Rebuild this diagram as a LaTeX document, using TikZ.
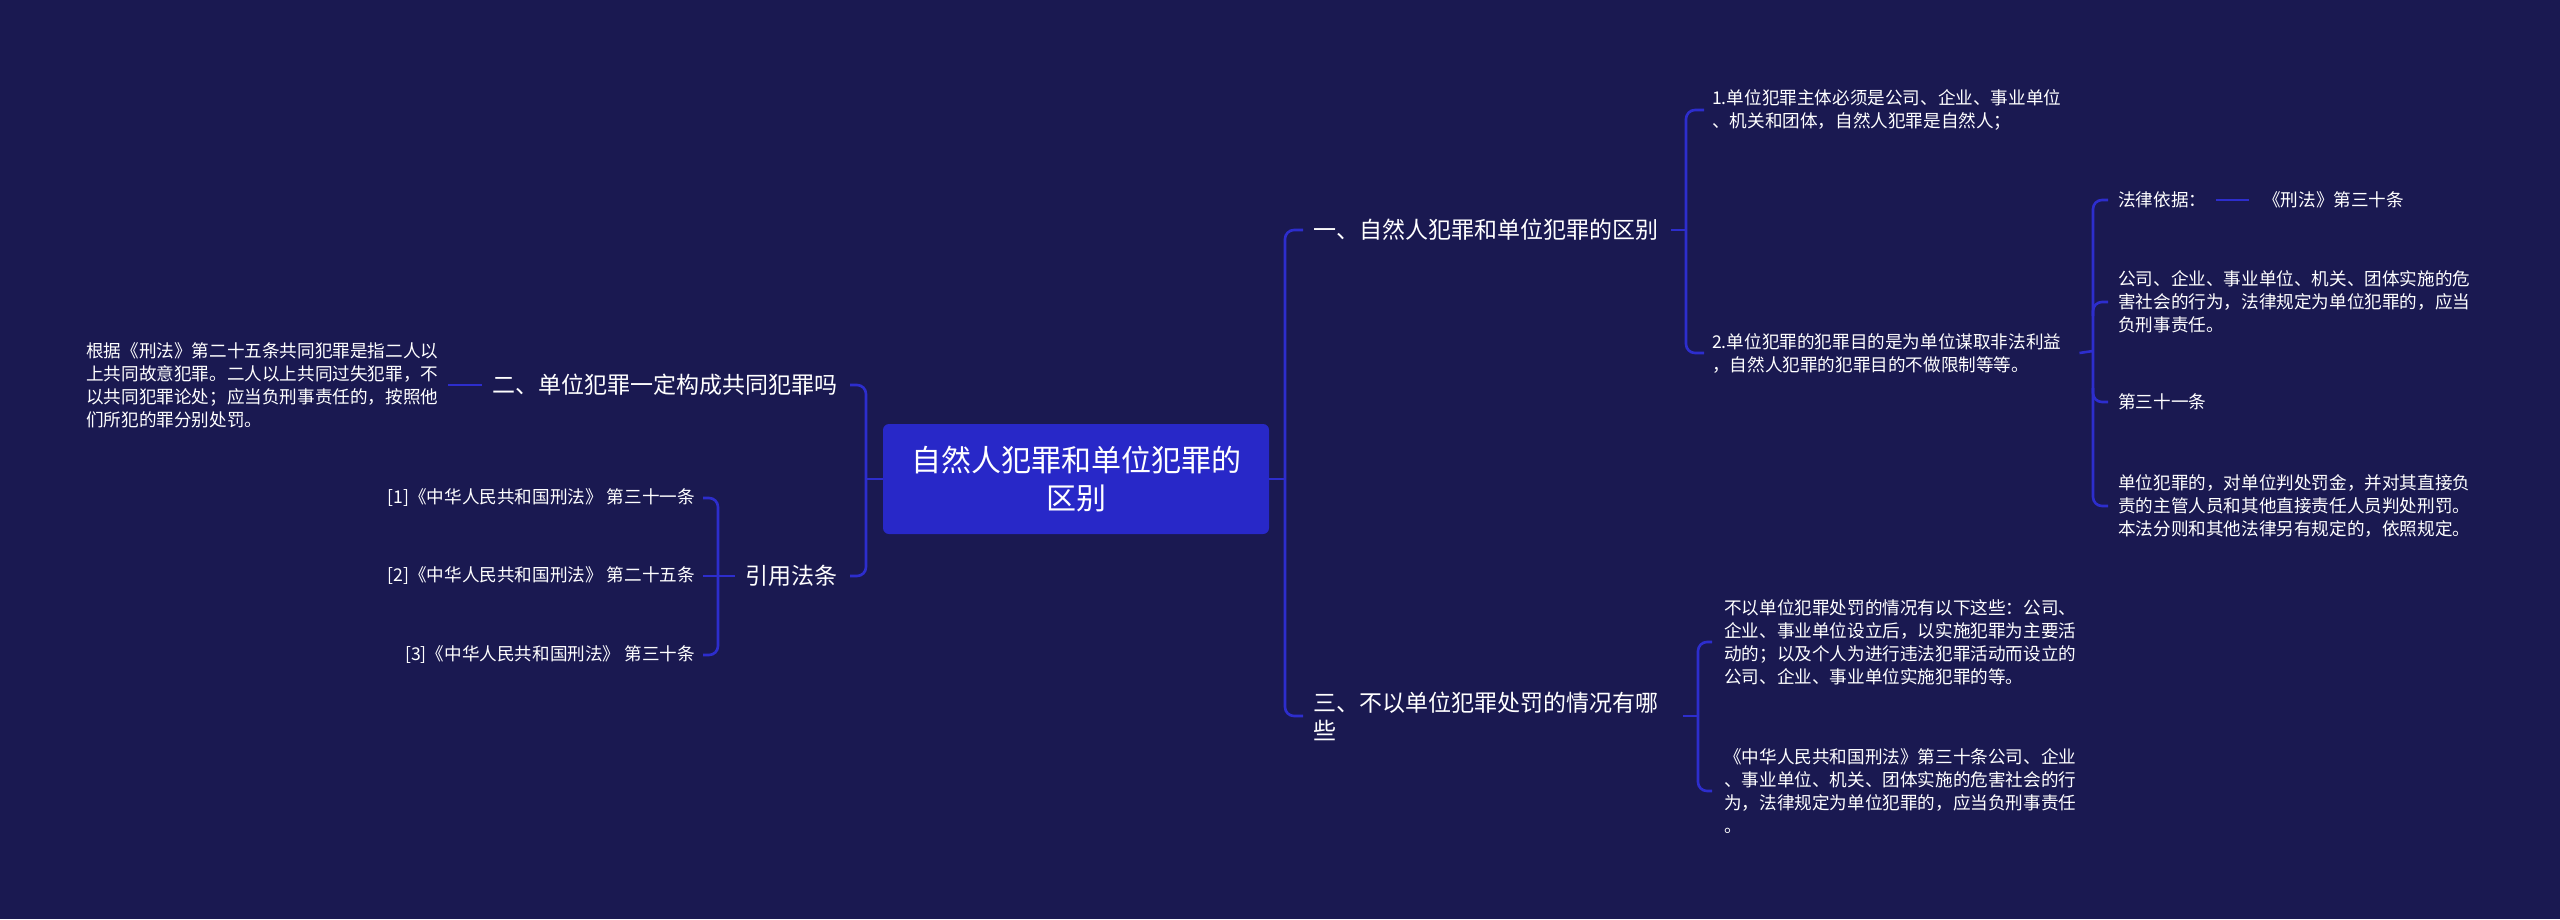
\documentclass[tikz,border=0pt]{standalone}
\usepackage{fontspec}
\newfontfamily\cjk{Noto Sans CJK SC}
\usetikzlibrary{calc}
\definecolor{bgc}{RGB}{26,25,81}
\definecolor{linec}{RGB}{45,45,205}
\definecolor{rootc}{RGB}{40,40,200}
\begin{document}
\begin{tikzpicture}[x=1pt,y=-1pt,
  conn/.style={draw=linec,line width=2.6pt,rounded corners=9pt},
  rootbox/.style={fill=rootc,rounded corners=6pt,minimum width=386pt,minimum height=110pt,align=center,text=white,inner sep=0pt,font=\cjk\fontsize{30}{38}\selectfont},
  branch/.style={text=white,inner sep=0pt,align=left,font=\cjk\fontsize{23}{28}\selectfont},
  leaf/.style={text=white,inner sep=0pt,align=left,font=\cjk\fontsize{17.6}{23}\selectfont}]
\fill[bgc] (0,0) rectangle (2560,919);
\useasboundingbox (0,0) rectangle (2560,919);

% nodes
\node[rootbox] (root) at (1076,479) {自然人犯罪和单位犯罪的\\区别};
\node[branch,anchor=west] (b1) at (1313,230) {一、自然人犯罪和单位犯罪的区别};
\node[branch,anchor=east] (b2) at (838,385) {二、单位犯罪一定构成共同犯罪吗};
\node[branch,anchor=west] (b3) at (1313,716) {三、不以单位犯罪处罚的情况有哪\\些};
\node[branch,anchor=east] (b4) at (838,576) {引用法条};

\node[leaf,anchor=west] (l2) at (86,385) {根据《刑法》第二十五条共同犯罪是指二人以\\上共同故意犯罪。二人以上共同过失犯罪，不\\以共同犯罪论处；应当负刑事责任的，按照他\\们所犯的罪分别处罚。};
\node[leaf,anchor=east] (r1) at (695,498) {[1]《中华人民共和国刑法》 第三十一条};
\node[leaf,anchor=east] (r2) at (695,576) {[2]《中华人民共和国刑法》 第二十五条};
\node[leaf,anchor=east] (r3) at (695,655) {[3]《中华人民共和国刑法》 第三十条};

\node[leaf,anchor=west] (c1) at (1712,110) {1.单位犯罪主体必须是公司、企业、事业单位\\、机关和团体，自然人犯罪是自然人；};
\node[leaf,anchor=west] (c2) at (1712,353) {2.单位犯罪的犯罪目的是为单位谋取非法利益\\，自然人犯罪的犯罪目的不做限制等等。};

\node[leaf,anchor=west] (d1) at (2118,200) {法律依据：};
\node[leaf,anchor=west] (d1b) at (2263,200) {《刑法》第三十条};
\node[leaf,anchor=west] (d2) at (2118,302) {公司、企业、事业单位、机关、团体实施的危\\害社会的行为，法律规定为单位犯罪的，应当\\负刑事责任。};
\node[leaf,anchor=west] (d3) at (2118,402) {第三十一条};
\node[leaf,anchor=west] (d4) at (2118,506) {单位犯罪的，对单位判处罚金，并对其直接负\\责的主管人员和其他直接责任人员判处刑罚。\\本法分则和其他法律另有规定的，依照规定。};

\node[leaf,anchor=west] (e1) at (1724,642) {不以单位犯罪处罚的情况有以下这些：公司、\\企业、事业单位设立后，以实施犯罪为主要活\\动的；以及个人为进行违法犯罪活动而设立的\\公司、企业、事业单位实施犯罪的等。};
\node[leaf,anchor=west] (e2) at (1724,791) {《中华人民共和国刑法》第三十条公司、企业\\、事业单位、机关、团体实施的危害社会的行\\为，法律规定为单位犯罪的，应当负刑事责任\\。};

% junction coordinates
\coordinate (tr) at (1285,479);
\coordinate (tl) at (866,479);
\coordinate (cl) at (718,576);
\coordinate (cr1) at (1686,230);
\coordinate (cr2) at (2093,351);
\coordinate (cr3) at (1698,716);

% connectors
\draw[conn] (root.east) -- (tr);
\draw[conn] ([xshift=-10pt]b1.west) -| (tr |- b3.west) -- ([xshift=-10pt]b3.west);
\draw[conn] (root.west) -- (tl);
\draw[conn] ([xshift=12pt]b2.east) -| (tl |- b4.east) -- ([xshift=12pt]b4.east);

\draw[conn] ([xshift=10pt]l2.east) -- ([xshift=-11pt]b2.west);

\draw[conn] ([xshift=-11pt]b4.west) -- ([xshift=8pt]r2.east);
\draw[conn] ([xshift=8pt]r1.east) -| (cl |- r3.east) -- ([xshift=8pt]r3.east);

\draw[conn] ([xshift=13pt]b1.east) -- (cr1);
\draw[conn] ([xshift=-8pt]c1.west) -| (cr1 |- c2.west) -- ([xshift=-8pt]c2.west);

\draw[conn] ([xshift=18pt]c2.east) -- (cr2);
\draw[conn] ([xshift=-10pt]d1.west) -| (cr2 |- d4.west) -- ([xshift=-10pt]d4.west);
\draw[conn] ($(cr2 |- d2.west)+(0,14)$) |- ([xshift=-10pt]d2.west);
\draw[conn] ($(cr2 |- d3.west)+(0,-14)$) |- ([xshift=-10pt]d3.west);
\draw[conn] ([xshift=10pt]d1.east) -- ([xshift=-14pt]d1b.west);

\draw[conn] ([xshift=25pt]b3.east) -- (cr3);
\draw[conn] ([xshift=-12pt]e1.west) -| (cr3 |- e2.west) -- ([xshift=-12pt]e2.west);
\end{tikzpicture}
\end{document}
